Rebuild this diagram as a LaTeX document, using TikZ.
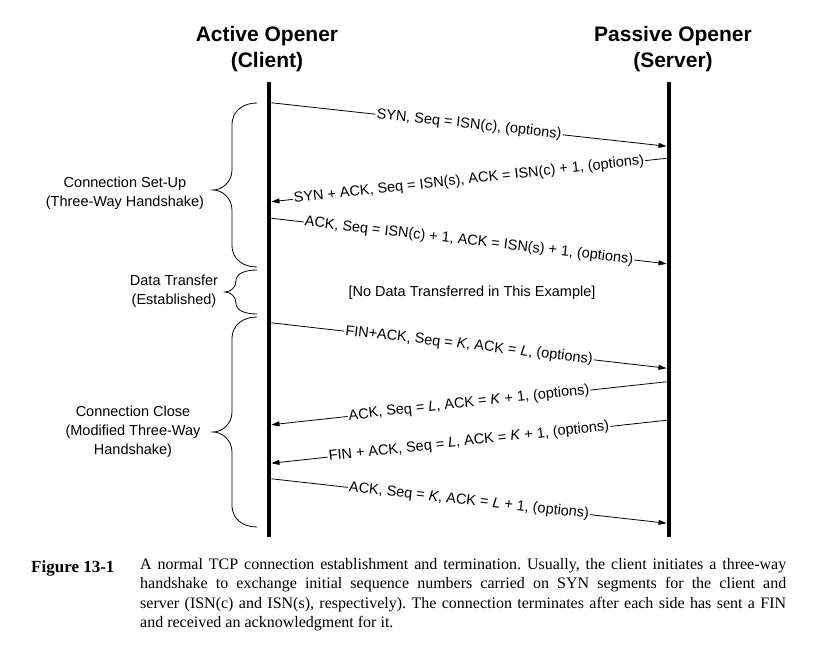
\documentclass[tikz,border=0pt]{standalone}
\usepackage{fontspec}
\setmainfont{Liberation Serif}
\setsansfont{Liberation Sans}
\usetikzlibrary{arrows.meta}
\begin{document}
\begin{tikzpicture}[x=1pt,y=-1pt,
  lab/.style={font=\sffamily\fontsize{14.5}{19}\selectfont},
  msg/.style={line width=0.8pt, -{Triangle[length=8pt,width=5pt]}, shorten >=2.5pt, shorten <=2.5pt},
  msglab/.style={lab, midway, sloped, fill=white, inner xsep=1.2pt, inner ysep=0pt},
  life/.style={line width=4.5pt},
  head/.style={font=\sffamily\bfseries\fontsize{21}{26}\selectfont, align=center},
  bracel/.style={line width=0.8pt},
  phase/.style={lab, align=center},
]
\useasboundingbox[fill=white] (0,0) rectangle (814,664);
% headings
\node[head] (hc) at (267,49) {Active Opener\\(Client)};
\node[head] (hs) at (673,49) {Passive Opener\\(Server)};
% lifelines
\coordinate (ctop) at (269,82); \coordinate (cbot) at (269,537);
\coordinate (stop) at (669,82); \coordinate (sbot) at (669,537);
\draw[life] (ctop) -- (cbot);
\draw[life] (stop) -- (sbot);
% message end points
\coordinate (c1) at (269,102.5); \coordinate (s1) at (669,146.5);
\coordinate (s2) at (669,158);   \coordinate (c2) at (269,202);
\coordinate (c3) at (269,218);   \coordinate (s3) at (669,264);
\coordinate (c4) at (269,322.5); \coordinate (s4) at (669,368.5);
\coordinate (s5) at (669,381.5); \coordinate (c5) at (269,425);
\coordinate (s6) at (669,420);   \coordinate (c6) at (269,463.5);
\coordinate (c7) at (269,478.5); \coordinate (s7) at (669,523.5);
% messages
\draw[msg] (c1) -- node[msglab] (m1) {SYN, Seq = ISN(c), (options)} (s1);
\draw[msg] (s2) -- node[msglab] (m2) {SYN + ACK, Seq = ISN(s), ACK = ISN(c) + 1, (options)} (c2);
\draw[msg] (c3) -- node[msglab] (m3) {ACK, Seq = ISN(c) + 1, ACK = ISN(s) + 1, (options)} (s3);
\draw[msg] (c4) -- node[msglab] (m4) {FIN+ACK, Seq = \textit{K}, ACK = \textit{L}, (options)} (s4);
\draw[msg] (s5) -- node[msglab] (m5) {ACK, Seq = \textit{L}, ACK = \textit{K} + 1, (options)} (c5);
\draw[msg] (s6) -- node[msglab] (m6) {FIN + ACK, Seq = \textit{L}, ACK = \textit{K} + 1, (options)} (c6);
\draw[msg] (c7) -- node[msglab] (m7) {ACK, Seq = \textit{K}, ACK = \textit{L} + 1, (options)} (s7);
\node[lab] (nodata) at (472,293) {[No Data Transferred in This Example]};
% braces
\draw[bracel] (257,103) .. controls (244,103) and (232,110) .. (232,125)
  -- (232,170) .. controls (232,182) and (222,190) .. (213,190)
  .. controls (222,190) and (232,198) .. (232,210)
  -- (232,245) .. controls (232,260) and (244,267) .. (257,267);
\draw[bracel] (257,270) .. controls (246,270) and (236,273) .. (236,281)
  .. controls (236,287) and (231,292) .. (225,292)
  .. controls (231,292) and (236,297) .. (236,303)
  .. controls (236,311) and (246,314) .. (257,314);
\draw[bracel] (257,317) .. controls (244,317) and (232,324) .. (232,339)
  -- (232,412) .. controls (232,424) and (222,432) .. (213,432)
  .. controls (222,432) and (232,440) .. (232,452)
  -- (232,505) .. controls (232,520) and (244,527) .. (257,527);
\node[phase] (p1) at (125,193.5) {Connection Set-Up\\(Three-Way Handshake)};
\node[phase] (p2) at (174,291.5) {Data Transfer\\(Established)};
\node[phase] (p3) at (133,431.5) {Connection Close\\(Modified Three-Way\\Handshake)};
% caption
\node[anchor=base west, inner sep=0, font=\bfseries\fontsize{17}{19.5}\selectfont] (fig) at (31,572) {Figure 13-1};
\node[anchor=north west, inner sep=0, text width=646pt, align=justify,
  font=\fontsize{16}{19.5}\selectfont] (cap) at (140,558)
  {\frenchspacing\tolerance=10000\hyphenpenalty=10000\exhyphenpenalty=10000
  A normal TCP connection establishment and termination. Usually, the client initiates a three-way\linebreak
  handshake to exchange initial sequence numbers carried on SYN segments for the client and\linebreak
  server (ISN(c) and ISN(s), respectively). The connection terminates after each side has sent a FIN\linebreak
  and received an acknowledgment for it.};
\end{tikzpicture}
\end{document}
